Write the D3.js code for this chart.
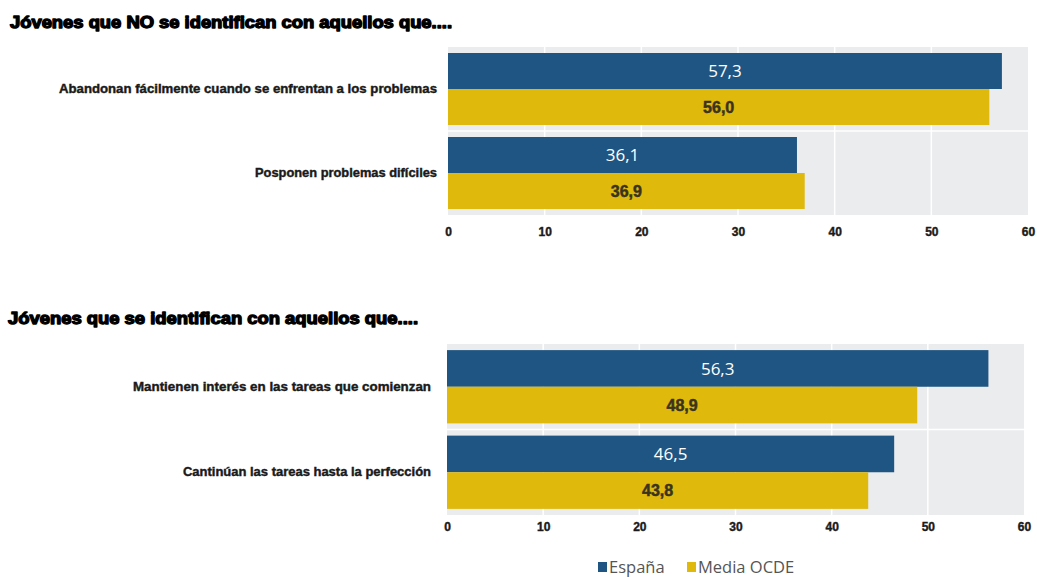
<!DOCTYPE html>
<html><head><meta charset="utf-8">
<script src="https://cdn.jsdelivr.net/npm/d3@7"></script>
<style>
html,body{margin:0;padding:0;background:#fff;}
svg{display:block;}
</style></head>
<body>
<svg id="c" width="1037" height="577"></svg>
<script>
const seriesNames = ["España", "Media OCDE"];
const seriesColors = ["#1f5582", "#dfb90c"];

const title1 = "Jóvenes que NO se identifican con aquellos que....";
const categories1 = ["Abandonan fácilmente cuando se enfrentan a los problemas", "Posponen problemas difíciles"];
const espana1 = [57.3, 36.1];
const ocde1 = [56.0, 36.9];

const title2 = "Jóvenes que se identifican con aquellos que....";
const categories2 = ["Mantienen interés en las tareas que comienzan ", "Cantinúan las tareas hasta la perfección"];
const espana2 = [56.3, 46.5];
const ocde2 = [48.9, 43.8];

const xTicks = [0, 10, 20, 30, 40, 50, 60];

const svg = d3.select("#c");
const fmt = v => d3.format(".1f")(v).replace(".", ",");

function panel(cfg) {
  const g = svg.append("g");
  g.append("text").attr("x", cfg.titleX).attr("y", cfg.titleY)
    .attr("font-family", "'Liberation Sans', Arial, sans-serif")
    .attr("font-weight", "bold").attr("font-size", 16)
    .attr("fill", "#000").attr("stroke", "#000").attr("stroke-width", 1.3)
    .attr("stroke-linejoin", "round")
    .attr("textLength", cfg.titleLen).attr("lengthAdjust", "spacingAndGlyphs")
    .text(cfg.title);

  const x = d3.scaleLinear().domain([0, 60]).range([cfg.x0, cfg.x1]);
  const y = d3.scaleBand().domain(cfg.categories).range([cfg.y0, cfg.y1])
    .paddingInner(0.143).paddingOuter(0.0715);
  const ys = d3.scaleBand().domain(seriesNames).range([0, y.bandwidth()]);

  g.append("rect").attr("x", x(0)).attr("y", cfg.y0)
    .attr("width", x(60) - x(0)).attr("height", cfg.y1 - cfg.y0)
    .attr("fill", "#ebecee");
  g.selectAll(".vg").data(xTicks.slice(1, -1)).join("line")
    .attr("x1", d => x(d)).attr("x2", d => x(d))
    .attr("y1", cfg.y0).attr("y2", cfg.y1)
    .attr("stroke", "#fff").attr("stroke-width", 1.5);
  g.selectAll(".hg").data(cfg.categories.slice(1)).join("line")
    .attr("x1", x(0)).attr("x2", x(60))
    .attr("y1", d => y(d) - y.step() * y.paddingInner() / 2)
    .attr("y2", d => y(d) - y.step() * y.paddingInner() / 2)
    .attr("stroke", "#fff").attr("stroke-width", 1.5);

  const rows = [];
  cfg.categories.forEach((c, i) => {
    rows.push({cat: c, s: seriesNames[0], v: cfg.espana[i], k: 0});
    rows.push({cat: c, s: seriesNames[1], v: cfg.ocde[i], k: 1});
  });
  g.selectAll(".bar").data(rows).join("rect")
    .attr("x", x(0)).attr("y", d => y(d.cat) + ys(d.s))
    .attr("width", d => x(d.v) - x(0)).attr("height", ys.bandwidth())
    .attr("fill", d => seriesColors[d.k]);

  g.selectAll(".val").data(rows).join("text")
    .attr("x", d => (x(0) + x(d.v)) / 2)
    .attr("y", d => y(d.cat) + ys(d.s) + ys.bandwidth() / 2)
    .attr("dy", "0.36em").attr("text-anchor", "middle")
    .attr("font-family", d => d.k === 0 ? "'Open Sans', sans-serif" : "'Liberation Sans', Arial, sans-serif")
    .attr("font-weight", d => d.k === 0 ? "normal" : "bold")
    .attr("font-size", d => d.k === 0 ? 17 : 16)
    .attr("fill", d => d.k === 0 ? "#fff" : "#3a3320")
    .attr("stroke", d => d.k === 0 ? "none" : "#3a3320").attr("stroke-width", 0.5)
    .text(d => fmt(d.v));

  g.selectAll(".cat").data(cfg.categories).join("text")
    .attr("x", (d, i) => cfg.labelRight[i])
    .attr("y", d => y(d) + y.bandwidth() / 2)
    .attr("dy", "0.35em").attr("text-anchor", "end")
    .attr("font-family", "'Liberation Sans', Arial, sans-serif")
    .attr("font-weight", "bold").attr("font-size", 12)
    .attr("fill", "#1a1a1a").attr("stroke", "#1a1a1a").attr("stroke-width", 0.4)
    .attr("textLength", (d, i) => cfg.labelLen[i]).attr("lengthAdjust", "spacingAndGlyphs")
    .text(d => d);

  const ax = g.append("g").attr("transform", `translate(0,${cfg.tickY})`)
    .call(d3.axisBottom(x).tickValues(xTicks).tickSize(0).tickPadding(0));
  ax.select(".domain").remove();
  ax.selectAll("text")
    .attr("font-family", "'Liberation Sans Narrow', 'Liberation Sans', Arial, sans-serif")
    .attr("font-weight", "bold").attr("font-size", 12)
    .attr("fill", "#1a1a1a").attr("stroke", "#1a1a1a").attr("stroke-width", 0.4)
    .attr("dy", "0.35em").attr("y", 0);
}

panel({title: title1, titleX: 10, titleY: 28, titleLen: 442,
  categories: categories1, espana: espana1, ocde: ocde1,
  x0: 448, x1: 1028, y0: 47, y1: 215, tickY: 232,
  labelRight: [437, 437], labelLen: [378, 182]});

panel({title: title2, titleX: 8, titleY: 324, titleLen: 410,
  categories: categories2, espana: espana2, ocde: ocde2,
  x0: 447, x1: 1024, y0: 344, y1: 515, tickY: 527,
  labelRight: [431, 431], labelLen: [298, 248]});

const lg = svg.append("g").attr("transform", "translate(598,567)");
const legendOffsets = [0, 89];
seriesNames.forEach((s, i) => {
  const gg = lg.append("g").attr("transform", `translate(${legendOffsets[i]},0)`);
  gg.append("rect").attr("x", 0).attr("y", -5).attr("width", 9).attr("height", 10).attr("fill", seriesColors[i]);
  gg.append("text").attr("x", 11).attr("y", 0).attr("dy", "0.35em")
    .attr("font-family", "'Open Sans', sans-serif").attr("font-size", 16.5)
    .attr("fill", "#555").text(s);
});
</script>
</body></html>
